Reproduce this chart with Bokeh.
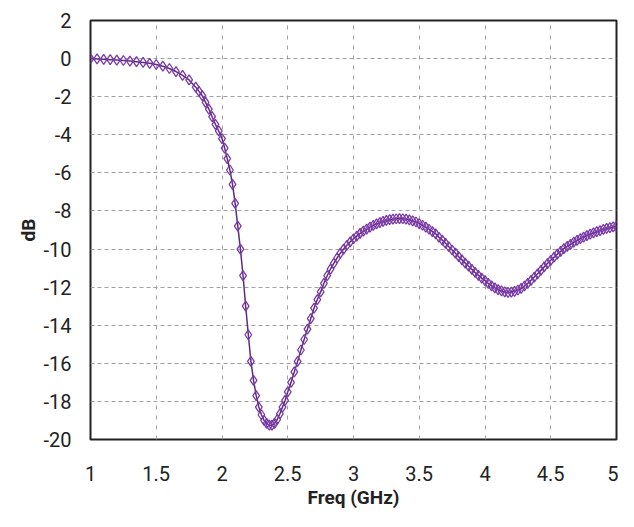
from bokeh.plotting import figure
from bokeh.embed import file_html
from bokeh.resources import INLINE
from bokeh.models import FixedTicker

# ---- data ----
freq_ghz = [
    1.00, 1.05, 1.10, 1.15, 1.20, 1.25, 1.30, 1.35, 1.40, 1.45, 1.50, 1.55, 1.60, 1.65, 1.70, 1.75,
    1.80, 1.825, 1.85, 1.875, 1.90, 1.925, 1.95, 1.975,
    2.00, 2.02, 2.04, 2.06, 2.08, 2.10, 2.12, 2.14, 2.16, 2.18, 2.20, 2.22, 2.24, 2.26, 2.28,
    2.30, 2.32, 2.34, 2.36, 2.38, 2.40, 2.42, 2.44, 2.46, 2.48,
    2.50, 2.525, 2.55, 2.575, 2.60, 2.625, 2.65, 2.675, 2.70, 2.725, 2.75, 2.775, 2.80, 2.825,
    2.85, 2.875, 2.90, 2.925, 2.95, 2.975, 3.00, 3.025, 3.05, 3.075, 3.10, 3.125, 3.15, 3.175,
    3.20, 3.225, 3.25, 3.275, 3.30, 3.325, 3.35, 3.375, 3.40, 3.425, 3.45, 3.475, 3.50, 3.525,
    3.55, 3.575, 3.60, 3.625, 3.65, 3.675, 3.70, 3.725, 3.75, 3.775, 3.80, 3.825, 3.85, 3.875,
    3.90, 3.925, 3.95, 3.975, 4.00, 4.025, 4.05, 4.075, 4.10, 4.125, 4.15, 4.175, 4.20, 4.225,
    4.25, 4.275, 4.30, 4.325, 4.35, 4.375, 4.40, 4.425, 4.45, 4.475, 4.50, 4.525, 4.55, 4.575,
    4.60, 4.625, 4.65, 4.675, 4.70, 4.725, 4.75, 4.775, 4.80, 4.825, 4.85, 4.875, 4.90, 4.925,
    4.95, 4.975, 5.00,
]
s11_db = [
    0.00, -0.02, -0.04, -0.06, -0.08, -0.10, -0.13, -0.16, -0.20, -0.25, -0.31, -0.40, -0.52, -0.68, -0.88, -1.12,
    -1.50, -1.72, -1.95, -2.30, -2.65, -3.05, -3.45, -3.80,
    -4.20, -4.70, -5.25, -5.85, -6.60, -7.60, -8.80, -10.0, -11.4, -13.0, -14.5, -15.9, -16.9, -17.7, -18.3,
    -18.7, -19.0, -19.15, -19.25, -19.25, -19.15, -18.95, -18.65, -18.3, -17.95,
    -17.5, -17.0, -16.45, -15.9, -15.3, -14.75, -14.2, -13.65, -13.1, -12.65, -12.25, -11.8, -11.4, -11.05,
    -10.75, -10.47, -10.22, -10.0, -9.80, -9.62, -9.46, -9.32, -9.18, -9.06, -8.95, -8.85, -8.76, -8.68,
    -8.61, -8.55, -8.50, -8.46, -8.43, -8.41, -8.40, -8.41, -8.43, -8.47, -8.52, -8.58, -8.66, -8.75,
    -8.85, -8.96, -9.08, -9.20, -9.38, -9.53, -9.70, -9.88, -10.05, -10.22, -10.40, -10.57, -10.74, -10.90,
    -11.07, -11.23, -11.38, -11.53, -11.66, -11.80, -11.93, -12.04, -12.13, -12.20, -12.25, -12.27, -12.26, -12.22,
    -12.15, -12.06, -11.94, -11.80, -11.64, -11.47, -11.30, -11.12, -10.94, -10.76, -10.59, -10.43, -10.27, -10.12,
    -9.98, -9.86, -9.75, -9.64, -9.54, -9.45, -9.37, -9.29, -9.22, -9.15, -9.09, -9.03, -8.97, -8.92,
    -8.88, -8.84, -8.80,
]
x_ticks = [1, 1.5, 2, 2.5, 3, 3.5, 4, 4.5, 5]
x_tick_labels = ["1", "1.5", "2", "2.5", "3", "3.5", "4", "4.5", "5"]
y_ticks = [-20, -18, -16, -14, -12, -10, -8, -6, -4, -2, 0, 2]
y_tick_labels = ["-20", "-18", "-16", "-14", "-12", "-10", "-8", "-6", "-4", "-2", "0", "2"]

p = figure(width=618, height=511, x_range=(1, 5), y_range=(-20, 2),
           output_backend="svg", toolbar_location=None,
           min_border_left=90, min_border_right=2, min_border_top=20, min_border_bottom=71,
           background_fill_color="white", border_fill_color="white")

p.line(freq_ghz, s11_db, line_color="#5a2d7e", line_width=1.5)
p.scatter(freq_ghz, s11_db, marker="diamond", size=10, line_color="#7a3aa6",
          line_width=1.3, fill_color="white", fill_alpha=0.0)

p.xaxis.ticker = FixedTicker(ticks=x_ticks)
p.yaxis.ticker = FixedTicker(ticks=y_ticks)
p.xaxis.major_label_overrides = {t: l for t, l in zip(x_ticks, x_tick_labels)}
p.yaxis.major_label_overrides = {t: l for t, l in zip(y_ticks, y_tick_labels)}

p.xaxis.axis_label = "Freq (GHz)"
p.yaxis.axis_label = "dB"

for ax in (p.xaxis[0], p.yaxis[0]):
    ax.axis_line_color = None
    ax.major_tick_line_color = None
    ax.minor_tick_line_color = None
    ax.major_label_text_font = "Roboto"
    ax.major_label_text_font_size = "20px"
    ax.major_label_text_color = "#222222"
    ax.axis_label_text_font = "Roboto"
    ax.axis_label_text_font_size = "19px"
    ax.axis_label_text_font_style = "bold"
    ax.axis_label_text_color = "#222222"

p.xaxis.major_label_standoff = 20
p.xaxis.axis_label_standoff = 2
p.yaxis.major_label_standoff = 13
p.yaxis.axis_label_standoff = 0

p.xgrid.grid_line_color = "#a0a0a0"
p.xgrid.grid_line_dash = "4 6"
p.xgrid.grid_line_width = 1
p.ygrid.grid_line_color = "#a0a0a0"
p.ygrid.grid_line_dash = "4 3"
p.ygrid.grid_line_width = 1

p.outline_line_color = "#222222"
p.outline_line_width = 2
p.outline_line_alpha = 1.0

open("out.html", "w").write(file_html(p, INLINE))
